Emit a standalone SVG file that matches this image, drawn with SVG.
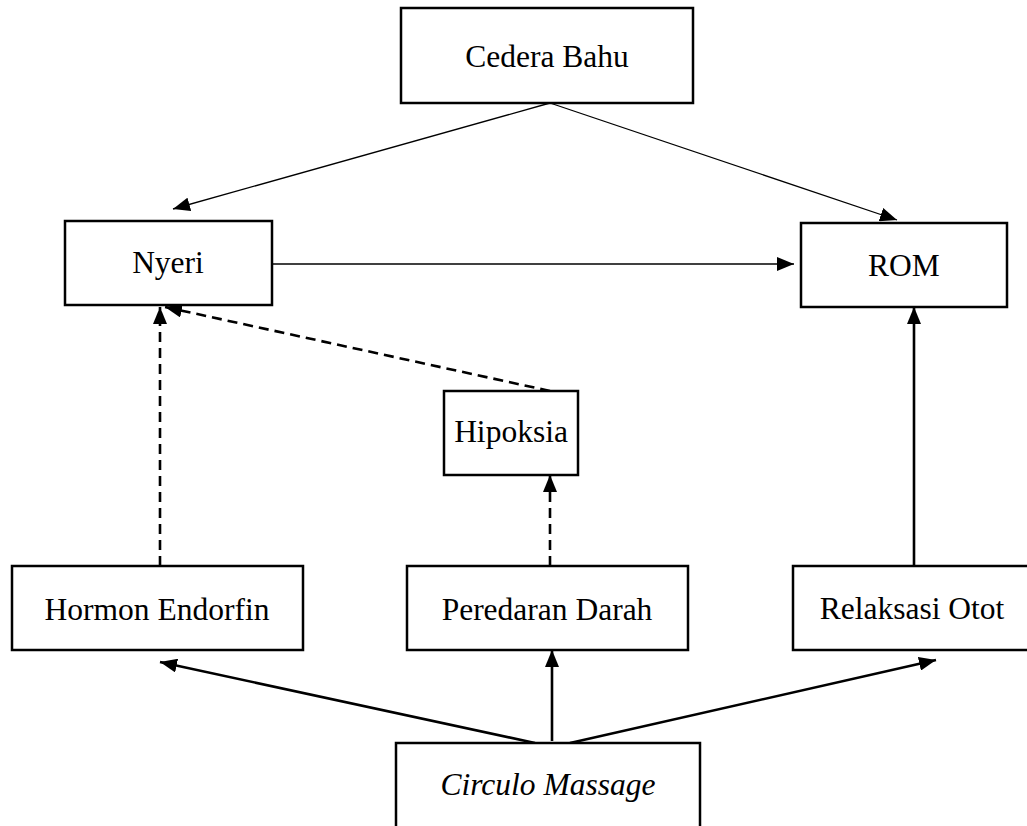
<svg xmlns="http://www.w3.org/2000/svg" width="1027" height="826" viewBox="0 0 1027 826">
<style>
.box{fill:#fff;stroke:#000;stroke-width:2.5}
.t{font-family:"Liberation Serif","Times New Roman",serif;font-size:31.5px;fill:#000;text-anchor:middle}
.it{font-style:italic}
.thin{stroke:#000;stroke-width:1.3;fill:none}
.thick{stroke:#000;stroke-width:2.6;fill:none}
.dash{stroke:#000;stroke-width:2.6;fill:none;stroke-dasharray:10,6}
</style>
<defs>
<marker id="ah" markerUnits="userSpaceOnUse" markerWidth="18" markerHeight="14" refX="17" refY="7" orient="auto">
<path d="M0,0 L17,7 L0,14 z" fill="#000"/>
</marker>
</defs>
<rect width="1027" height="826" fill="#fff"/>
<g id="connectors">
<line class="thin" x1="550" y1="103" x2="173" y2="209" marker-end="url(#ah)"/>
<line class="thin" x1="550" y1="103" x2="897" y2="220" marker-end="url(#ah)"/>
<line class="thin" x1="272" y1="264" x2="794" y2="264" marker-end="url(#ah)"/>
<line class="thick" x1="914" y1="566" x2="914" y2="307" marker-end="url(#ah)"/>
<line class="dash" x1="160" y1="566" x2="160" y2="307" marker-end="url(#ah)"/>
<line class="dash" x1="550" y1="391" x2="165" y2="307" marker-end="url(#ah)"/>
<line class="dash" x1="550" y1="566" x2="550" y2="475" marker-end="url(#ah)"/>
<line class="thick" x1="535" y1="743" x2="160" y2="662" marker-end="url(#ah)"/>
<line class="thick" x1="552" y1="741" x2="552" y2="650" marker-end="url(#ah)"/>
<line class="thick" x1="570" y1="743" x2="936" y2="660" marker-end="url(#ah)"/>
</g>
<g id="cedera"><rect class="box" x="401" y="8" width="292" height="95"/><text class="t" x="547" y="67">Cedera Bahu</text></g>
<g id="nyeri"><rect class="box" x="65" y="221" width="207" height="84"/><text class="t" x="168" y="273">Nyeri</text></g>
<g id="rom"><rect class="box" x="801" y="223" width="206" height="84"/><text class="t" x="904" y="276">ROM</text></g>
<g id="hipoksia"><rect class="box" x="444" y="391" width="134" height="84"/><text class="t" x="511" y="442">Hipoksia</text></g>
<g id="hormon"><rect class="box" x="12" y="566" width="291" height="84"/><text class="t" x="157" y="620">Hormon Endorfin</text></g>
<g id="peredaran"><rect class="box" x="407" y="566" width="281" height="84"/><text class="t" x="547" y="620">Peredaran Darah</text></g>
<g id="relaksasi"><rect class="box" x="793" y="566" width="240" height="84"/><text class="t" x="912" y="619">Relaksasi Otot</text></g>
<g id="circulo"><rect class="box" x="396" y="743" width="304" height="100"/><text class="t it" x="548" y="795">Circulo Massage</text></g>
</svg>
